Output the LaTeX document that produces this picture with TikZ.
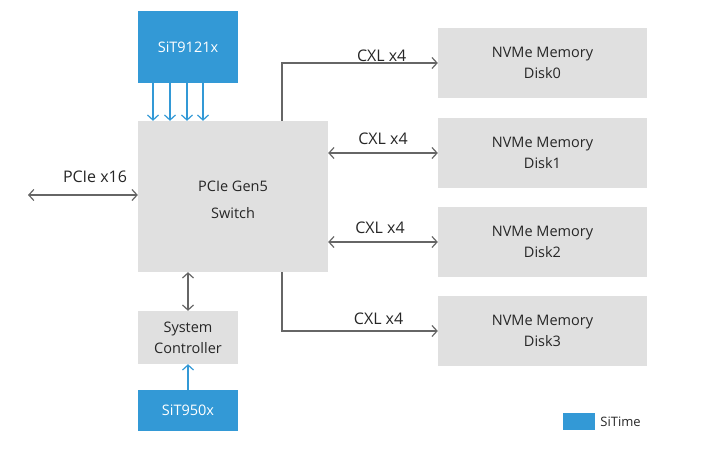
\documentclass[tikz,border=0pt]{standalone}
\usepackage{fontspec}
\setmainfont{Open Sans}
\usetikzlibrary{arrows.meta, positioning}

\definecolor{sitblue}{HTML}{3399D6}
\definecolor{boxgray}{HTML}{E0E0E0}
\definecolor{linegray}{HTML}{666666}

\tikzset{
  block/.style={fill=boxgray, draw=none, text=black!85, align=center, inner sep=0pt,
    font=\fontsize{14.5}{21}\selectfont},
  sitblock/.style={block, fill=sitblue, text=white},
  barb/.tip={Straight Barb[length=5pt, width=11pt, line width=1.2pt]},
  link/.style={draw=linegray, line width=1.3pt, -barb},
  dlink/.style={link, barb-barb},
  clklink/.style={draw=sitblue, line width=1.3pt, -barb},
  lbl/.style={text=black!85, font=\fontsize{16}{19}\selectfont}
}

\begin{document}
\begin{tikzpicture}[x=1pt, y=-1pt]
    \useasboundingbox (0,0) rectangle (714,457);

    % Blocks
    \node[sitblock, minimum width=100pt, minimum height=72pt] (sit9121) at (188,47) {SiT9121x};
    \node[block, minimum width=190pt, minimum height=151pt, font=\fontsize{14.5}{27}\selectfont]
      (switch) at (233,196.5) {\rule{0pt}{18pt}PCIe Gen5\\Switch};
    \node[block, minimum width=100pt, minimum height=53pt] (ctrl) at (188,337.5) {System\\Controller};
    \node[sitblock, minimum width=100pt, minimum height=41pt] (sit950) at (188,410.5) {SiT950x};

    % NVMe disks
    \foreach \i/\y in {0/63, 1/153, 2/242, 3/331}
      \node[block, minimum width=209pt, minimum height=70pt] (disk\i) at (542.5,\y) {NVMe Memory\\Disk\i};

    % Clock lines into the switch
    \foreach \dx in {-35,-18,-1,15}
      \draw[clklink] ([xshift=\dx pt]sit9121.south) -- ([xshift=\dx pt]sit9121.south |- switch.north);
    \draw[clklink] (sit950.north) -- (ctrl.south);

    % Host link
    \coordinate (host) at (28,195);
    \draw[dlink] (host) -- (host -| switch.west);
    \node[lbl] (hostlbl) at (95,177) {PCIe x16};

    % CXL links
    \draw[link] ([xshift=49pt]switch.north) |- (disk0.west) node[lbl, above, pos=0.82, yshift=-3pt] {CXL x4};
    \draw[dlink] (switch.east |- disk1.west) -- (disk1.west) node[lbl, above, midway, yshift=4pt] {CXL x4};
    \draw[dlink] (switch.east |- disk2.west) -- (disk2.west) node[lbl, above, midway, xshift=-3pt, yshift=4pt] {CXL x4};
    \draw[link] ([xshift=49pt]switch.south) |- (disk3.west) node[lbl, above, pos=0.81, yshift=2pt] {CXL x4};

    % Controller link
    \draw[dlink] (ctrl.north |- switch.south) -- (ctrl.north);

    % Legend
    \node[fill=sitblue, minimum width=32pt, minimum height=17pt, inner sep=0pt] (legbox) at (579,421.5) {};
    \node[right=5pt of legbox, text=black!85, font=\fontsize{13}{15}\selectfont, inner sep=0pt] (legtxt) {SiTime};
\end{tikzpicture}
\end{document}
